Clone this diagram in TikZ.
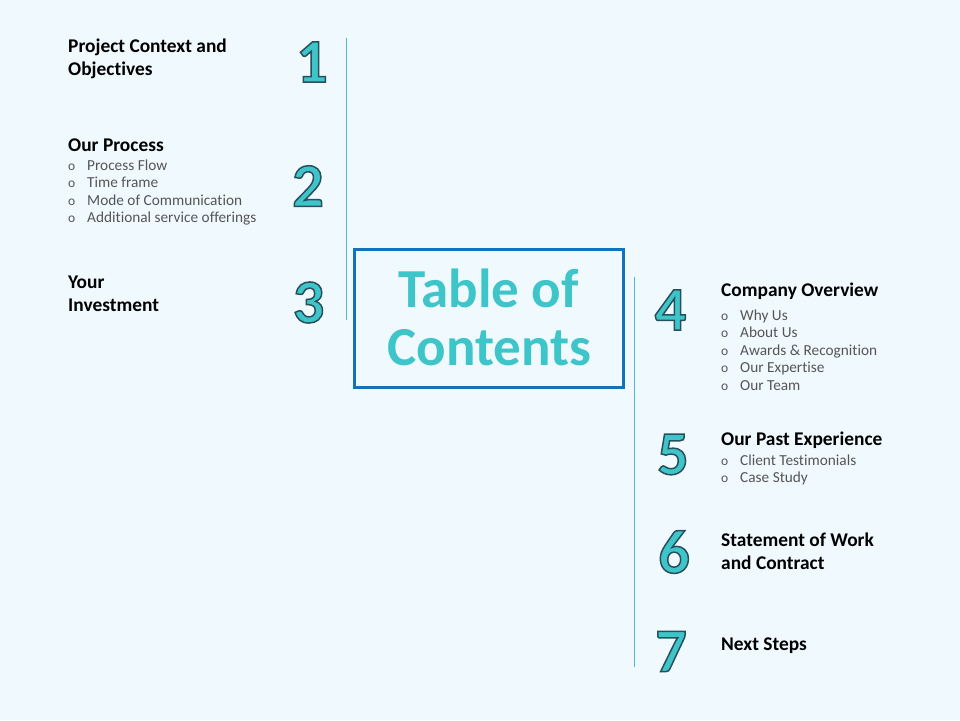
\documentclass[tikz,border=0pt]{standalone}
\usepackage{fontspec}
\setmainfont{Carlito}[Ligatures=NoCommon]
\usetikzlibrary{calc}
\definecolor{bgc}{HTML}{F0FAFE}
\definecolor{vline}{HTML}{4FB8CC}
\definecolor{boxblue}{HTML}{1372B8}
\definecolor{titlec}{HTML}{3EC5C9}
\definecolor{numfill}{HTML}{3EC5C9}
\definecolor{itemc}{HTML}{555555}
\tikzset{
  heading/.style={anchor=base west, inner sep=0pt, font=\fontsize{19.4}{23}\selectfont\bfseries, text=black},
  item/.style={anchor=base west, inner sep=0pt, font=\fontsize{15.3}{18}\selectfont, text=itemc},
  bul/.style={anchor=base west, inner sep=0pt, font=\fontsize{13.5}{16}\selectfont, text=itemc},
  numstyle/.style={inner sep=0pt, anchor=center, font=\fontsize{62}{62}\selectfont\bfseries, text=numfill},
  titletext/.style={anchor=base, inner sep=0pt, font=\fontsize{55}{58}\selectfont\bfseries, text=titlec},
  sepline/.style={draw=vline, line width=1pt},
}
\newcommand{\outl}[1]{\special{pdf:literal direct 0.16 0.31 0.36 RG 2 Tr 1.5 w}#1\special{pdf:literal direct 0 Tr}}
\newcommand{\bignum}[3]{%
  \node[numstyle] (#1) at (#2) {\outl{#3}};}
\newcommand{\bulitem}[3]{%
  \node[bul] at (#1) {o};
  \node[item] (#3) at ($(#1)+(19,0)$) {#2};}
\begin{document}
\begin{tikzpicture}[x=1pt,y=-1pt]
\fill[bgc] (0,0) rectangle (960,720);
\useasboundingbox (0,0) rectangle (960,720);
% separator lines
\coordinate (l1) at (346,38); \coordinate (l2) at (346,320);
\coordinate (r1) at (634,277); \coordinate (r2) at (634,667);
\draw[sepline] (l1) -- (l2);
\draw[sepline] (r1) -- (r2);
% title box
\node[draw=boxblue, line width=3pt, minimum width=269pt, minimum height=138pt, inner sep=0pt] (box) at (489,318.5) {};
\node[titletext] (t1) at (488.5,307) {Table of};
\node[titletext] (t2) at (489.5,365) {Contents};
% numbers
\bignum{n1}{312,62}{1}
\bignum{n2}{308,186}{2}
\bignum{n3}{308.5,302.5}{3}
\bignum{n4}{670.5,310}{4}
\bignum{n5}{673,454.5}{5}
\bignum{n6}{674,552}{6}
\bignum{n7}{671,651.5}{7}
% left entries
\node[heading] (h1a) at (68,52) {Project Context and};
\node[heading] (h1b) at (68,75) {Objectives};
\node[heading] (h2) at (68,151) {Our Process};
\bulitem{68,170}{Process Flow}{i21}
\bulitem{68,187.5}{Time frame}{i22}
\bulitem{68,205}{Mode of Communication}{i23}
\bulitem{68,222.5}{Additional service offerings}{i24}
\node[heading] (h3a) at (68,288) {Your};
\node[heading] (h3b) at (68,311) {Investment};
% right entries
\node[heading] (h4) at (721,296) {Company Overview};
\bulitem{721,320}{Why Us}{i41}
\bulitem{721,337.5}{About Us}{i42}
\bulitem{721,355}{Awards \& Recognition}{i43}
\bulitem{721,372.5}{Our Expertise}{i44}
\bulitem{721,390}{Our Team}{i45}
\node[heading] (h5) at (721,445) {Our Past Experience};
\bulitem{721,465}{Client Testimonials}{i51}
\bulitem{721,482.5}{Case Study}{i52}
\node[heading] (h6a) at (721,546) {Statement of Work};
\node[heading] (h6b) at (721,569) {and Contract};
\node[heading] (h7) at (721,650) {Next Steps};
\end{tikzpicture}
\end{document}
